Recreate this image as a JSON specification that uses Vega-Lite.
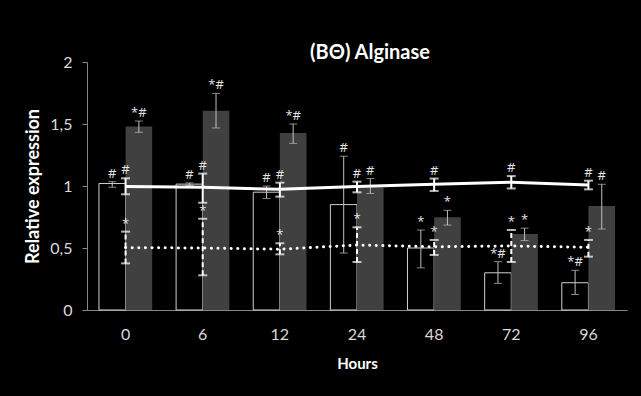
{
  "$schema": "https://vega.github.io/schema/vega-lite/v6.json",
  "width": 540,
  "height": 248,
  "autosize": {"type": "none"},
  "padding": {"left": 87, "top": 62, "right": 14, "bottom": 86},
  "background": "#000000",
  "config": {
    "font": "Lato",
    "view": {"stroke": null},
    "axis": {"grid": false}
  },
  "title": {
    "text": "(BΘ) Alginase",
    "color": "#ffffff",
    "fontSize": 20,
    "fontWeight": "bold",
    "font": "Lato",
    "anchor": "middle",
    "frame": "group",
    "dx": 13,
    "dy": 13
  },
  "datasets": {
    "bars": [
      {"hour": "0", "series": "A", "value": 1.02, "lo": 0.99, "hi": 1.035, "label": "#"},
      {"hour": "6", "series": "A", "value": 1.015, "lo": 1.005, "hi": 1.025, "label": "#"},
      {"hour": "12", "series": "A", "value": 0.95, "lo": 0.9, "hi": 1.0, "label": "#"},
      {"hour": "24", "series": "A", "value": 0.85, "lo": 0.46, "hi": 1.24, "label": "#"},
      {"hour": "48", "series": "A", "value": 0.5, "lo": 0.34, "hi": 0.645, "label": "*"},
      {"hour": "72", "series": "A", "value": 0.3, "lo": 0.215, "hi": 0.39, "label": "*#"},
      {"hour": "96", "series": "A", "value": 0.22, "lo": 0.125, "hi": 0.32, "label": "*#"},
      {"hour": "0", "series": "B", "value": 1.48, "lo": 1.433, "hi": 1.524, "label": "*#"},
      {"hour": "6", "series": "B", "value": 1.607, "lo": 1.468, "hi": 1.747, "label": "*#"},
      {"hour": "12", "series": "B", "value": 1.427, "lo": 1.344, "hi": 1.5, "label": "*#"},
      {"hour": "24", "series": "B", "value": 0.99, "lo": 0.94, "hi": 1.06, "label": "#"},
      {"hour": "48", "series": "B", "value": 0.748, "lo": 0.685, "hi": 0.804, "label": "*"},
      {"hour": "72", "series": "B", "value": 0.613, "lo": 0.56, "hi": 0.66, "label": "*"},
      {"hour": "96", "series": "B", "value": 0.839, "lo": 0.653, "hi": 1.014, "label": "#"}
    ],
    "lines": [
      {"hour": "0", "series": "solid", "value": 0.995, "lo": 0.933, "hi": 1.062, "label": "#"},
      {"hour": "6", "series": "solid", "value": 0.99, "lo": 0.865, "hi": 1.1, "label": "#"},
      {"hour": "12", "series": "solid", "value": 0.973, "lo": 0.914, "hi": 1.027, "label": "#"},
      {"hour": "24", "series": "solid", "value": 0.995, "lo": 0.949, "hi": 1.035, "label": "#"},
      {"hour": "48", "series": "solid", "value": 1.014, "lo": 0.96, "hi": 1.06, "label": "#"},
      {"hour": "72", "series": "solid", "value": 1.03, "lo": 0.98, "hi": 1.08, "label": "#"},
      {"hour": "96", "series": "solid", "value": 1.008, "lo": 0.973, "hi": 1.043, "label": "#"},
      {"hour": "0", "series": "dotted", "value": 0.503, "lo": 0.376, "hi": 0.632, "label": "*"},
      {"hour": "6", "series": "dotted", "value": 0.5, "lo": 0.28, "hi": 0.736, "label": "*"},
      {"hour": "12", "series": "dotted", "value": 0.49, "lo": 0.449, "hi": 0.538, "label": "*"},
      {"hour": "24", "series": "dotted", "value": 0.524, "lo": 0.387, "hi": 0.667, "label": "*"},
      {"hour": "48", "series": "dotted", "value": 0.51, "lo": 0.444, "hi": 0.565, "label": "*"},
      {"hour": "72", "series": "dotted", "value": 0.516, "lo": 0.387, "hi": 0.645, "label": "*"},
      {"hour": "96", "series": "dotted", "value": 0.506, "lo": 0.43, "hi": 0.565, "label": "*"}
    ]
  },
  "encoding": {
    "x": {
      "field": "hour",
      "type": "ordinal",
      "scale": {"domain": ["0", "6", "12", "24", "48", "72", "96"], "paddingInner": 0.31, "paddingOuter": 0.155},
      "axis": {
        "title": "Hours",
        "titleColor": "#ffffff",
        "titleFontSize": 15,
        "titleFontWeight": "bold",
        "titleBaseline": "middle",
        "titleY": 53,
        "labelAngle": 0,
        "labelColor": "#d9d9d9",
        "labelFontSize": 16,
        "labelPadding": 16,
        "ticks": false,
        "tickSize": 0,
        "domainColor": "#868686",
        "domainWidth": 1
      }
    },
    "y": {
      "field": "value",
      "type": "quantitative",
      "scale": {"domain": [0, 2], "nice": false, "zero": true},
      "axis": {
        "title": "Relative expression",
        "titleColor": "#ffffff",
        "titleFontSize": 18,
        "titleFontWeight": "bold",
        "titleX": -54,
        "titleY": 124,
        "titleBaseline": "middle",
        "values": [0, 0.5, 1, 1.5, 2],
        "labelExpr": "replace(toString(datum.value), '.', ',')",
        "labelColor": "#d9d9d9",
        "labelFontSize": 16,
        "labelPadding": 10,
        "tickSize": 5,
        "tickColor": "#868686",
        "domainColor": "#868686"
      }
    }
  },
  "layer": [
    {
      "data": {"name": "bars"},
      "transform": [{"filter": "datum.series === 'A'"}],
      "mark": {"type": "bar", "fill": "#000000", "stroke": "#d0d0d0", "strokeWidth": 1},
      "encoding": {
        "xOffset": {"field": "series", "type": "nominal", "scale": {"domain": ["A", "B"]}}
      }
    },
    {
      "data": {"name": "bars"},
      "transform": [{"filter": "datum.series === 'B'"}],
      "mark": {"type": "bar", "fill": "#404040"},
      "encoding": {
        "xOffset": {"field": "series", "type": "nominal", "scale": {"domain": ["A", "B"]}}
      }
    },
    {
      "data": {"name": "bars"},
      "mark": {"type": "rule", "stroke": "#bfbfbf", "strokeWidth": 1},
      "encoding": {
        "xOffset": {"field": "series", "type": "nominal", "scale": {"domain": ["A", "B"]}},
        "y": {"field": "lo", "type": "quantitative"},
        "y2": {"field": "hi"}
      }
    },
    {
      "data": {"name": "bars"},
      "mark": {"type": "tick", "color": "#bfbfbf", "thickness": 1, "size": 8, "orient": "horizontal"},
      "encoding": {
        "xOffset": {"field": "series", "type": "nominal", "scale": {"domain": ["A", "B"]}},
        "y": {"field": "lo", "type": "quantitative"}
      }
    },
    {
      "data": {"name": "bars"},
      "mark": {"type": "tick", "color": "#bfbfbf", "thickness": 1, "size": 8, "orient": "horizontal"},
      "encoding": {
        "xOffset": {"field": "series", "type": "nominal", "scale": {"domain": ["A", "B"]}},
        "y": {"field": "hi", "type": "quantitative"}
      }
    },
    {
      "data": {"name": "bars"},
      "mark": {"type": "text", "color": "#e6e6e6", "font": "Open Sans", "fontSize": 13, "baseline": "bottom", "dy": -1},
      "encoding": {
        "xOffset": {"field": "series", "type": "nominal", "scale": {"domain": ["A", "B"]}},
        "y": {"field": "hi", "type": "quantitative"},
        "text": {"field": "label"}
      }
    },
    {
      "data": {"name": "lines"},
      "transform": [{"filter": "datum.series === 'solid'"}],
      "mark": {"type": "line", "stroke": "#ffffff", "strokeWidth": 3}
    },
    {
      "data": {"name": "lines"},
      "transform": [{"filter": "datum.series === 'dotted'"}],
      "mark": {"type": "line", "stroke": "#ffffff", "strokeWidth": 3, "strokeDash": [0.1, 6.5], "strokeCap": "round"}
    },
    {
      "data": {"name": "lines"},
      "transform": [{"filter": "datum.series === 'solid'"}],
      "mark": {"type": "rule", "stroke": "#ffffff", "strokeWidth": 2},
      "encoding": {
        "y": {"field": "lo", "type": "quantitative"},
        "y2": {"field": "hi"}
      }
    },
    {
      "data": {"name": "lines"},
      "transform": [{"filter": "datum.series === 'dotted'"}],
      "mark": {"type": "rule", "stroke": "#ffffff", "strokeWidth": 2, "strokeDash": [5, 3]},
      "encoding": {
        "y": {"field": "lo", "type": "quantitative"},
        "y2": {"field": "hi"}
      }
    },
    {
      "data": {"name": "lines"},
      "transform": [{"filter": "datum.series === 'solid'"}],
      "mark": {"type": "tick", "color": "#ffffff", "thickness": 2, "size": 9, "orient": "horizontal"},
      "encoding": {"y": {"field": "lo", "type": "quantitative"}}
    },
    {
      "data": {"name": "lines"},
      "transform": [{"filter": "datum.series === 'solid'"}],
      "mark": {"type": "tick", "color": "#ffffff", "thickness": 2, "size": 9, "orient": "horizontal"},
      "encoding": {"y": {"field": "hi", "type": "quantitative"}}
    },
    {
      "data": {"name": "lines"},
      "transform": [{"filter": "datum.series === 'dotted'"}],
      "mark": {"type": "tick", "color": "#ffffff", "thickness": 2, "size": 9, "orient": "horizontal", "strokeDash": [5, 2]},
      "encoding": {"y": {"field": "lo", "type": "quantitative"}}
    },
    {
      "data": {"name": "lines"},
      "transform": [{"filter": "datum.series === 'dotted'"}],
      "mark": {"type": "tick", "color": "#ffffff", "thickness": 2, "size": 9, "orient": "horizontal", "strokeDash": [5, 2]},
      "encoding": {"y": {"field": "hi", "type": "quantitative"}}
    },
    {
      "data": {"name": "lines"},
      "mark": {"type": "text", "color": "#e6e6e6", "font": "Open Sans", "fontSize": 13, "baseline": "bottom", "dy": -1},
      "encoding": {
        "y": {"field": "hi", "type": "quantitative"},
        "text": {"field": "label"}
      }
    }
  ]
}
